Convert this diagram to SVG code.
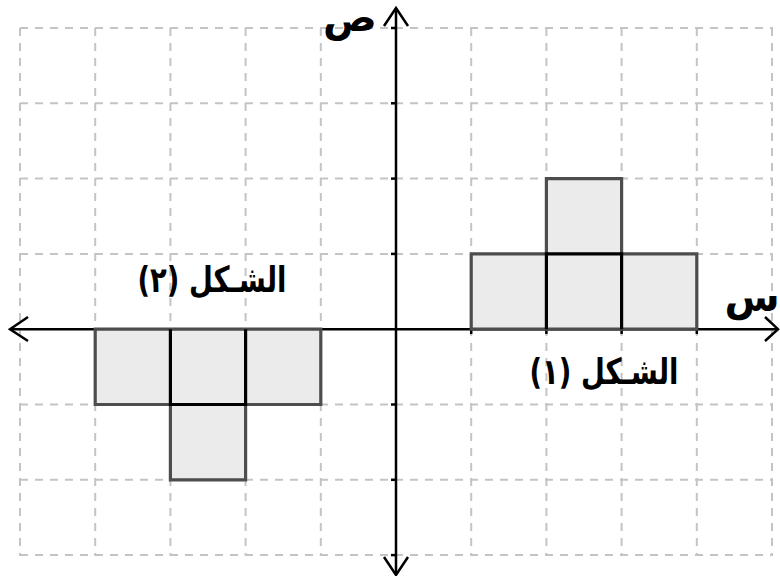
<svg xmlns="http://www.w3.org/2000/svg" width="780" height="576" viewBox="0 0 780 576">
<style>
.grid line{stroke:#c4c4c4;stroke-width:2;stroke-dasharray:8 7}
.axis{stroke:#000;stroke-width:2.5;fill:none}
.tick{stroke:#000;stroke-width:2.5}
.cell{fill:#ebebeb;stroke:#4d4d4d;stroke-width:3.2;stroke-linejoin:miter}
.inner{stroke:#000;stroke-width:3.2;fill:none}
.lbl{font-family:"DejaVu Sans","Liberation Sans",sans-serif;font-weight:bold;font-size:27.5px;fill:#000}
.ax{font-family:"DejaVu Serif","DejaVu Sans",serif;font-weight:bold;font-size:40px;fill:#000}
</style>
<rect width="780" height="576" fill="#fff"/>
<g id="grid" class="grid">
<line x1="20" y1="28" x2="20" y2="556"/>
<line x1="95.2" y1="28" x2="95.2" y2="556"/>
<line x1="170.4" y1="28" x2="170.4" y2="556"/>
<line x1="245.6" y1="28" x2="245.6" y2="556"/>
<line x1="320.8" y1="28" x2="320.8" y2="556"/>
<line x1="471.2" y1="28" x2="471.2" y2="556"/>
<line x1="546.4" y1="28" x2="546.4" y2="556"/>
<line x1="621.6" y1="28" x2="621.6" y2="556"/>
<line x1="696.8" y1="28" x2="696.8" y2="556"/>
<line x1="772" y1="28" x2="772" y2="556"/>
<line x1="20" y1="28" x2="773" y2="28"/>
<line x1="20" y1="103.3" x2="773" y2="103.3"/>
<line x1="20" y1="178.6" x2="773" y2="178.6"/>
<line x1="20" y1="253.9" x2="773" y2="253.9"/>
<line x1="20" y1="404.5" x2="773" y2="404.5"/>
<line x1="20" y1="479.8" x2="773" y2="479.8"/>
<line x1="20" y1="555.1" x2="773" y2="555.1"/>
</g>
<g id="axes">
<line class="axis" x1="10" y1="329.2" x2="778" y2="329.2"/>
<line class="axis" x1="396" y1="8" x2="396" y2="575"/>
<polyline class="axis" points="384,26 396,8 408,26"/>
<polyline class="axis" points="384,557 396,575 408,557"/>
<polyline class="axis" points="28,317 10,329.2 28,341"/>
<polyline class="axis" points="765,317 778,329.2 765,341"/>
<g class="tick">
<line x1="391" y1="28" x2="396" y2="28"/>
<line x1="391" y1="103.3" x2="396" y2="103.3"/>
<line x1="391" y1="178.6" x2="396" y2="178.6"/>
<line x1="391" y1="253.9" x2="396" y2="253.9"/>
<line x1="391" y1="404.5" x2="396" y2="404.5"/>
<line x1="391" y1="479.8" x2="396" y2="479.8"/>
<line x1="391" y1="555.1" x2="396" y2="555.1"/>
<line x1="471.2" y1="329.2" x2="471.2" y2="334"/>
<line x1="546.4" y1="329.2" x2="546.4" y2="334"/>
<line x1="621.6" y1="329.2" x2="621.6" y2="334"/>
<line x1="696.8" y1="329.2" x2="696.8" y2="334"/>
</g>
<text class="ax" x="350" y="31" text-anchor="middle">ص</text>
<text class="ax" x="752" y="311" text-anchor="middle">س</text>
</g>
<g id="shape1">
<path class="cell" d="M471.2,329.2 V253.9 H546.4 V178.6 H621.6 V253.9 H696.8 V329.2 Z"/>
<path class="inner" d="M546.4,329.2 V253.9 H621.6 V329.2"/>
</g>
<g id="shape2">
<path class="cell" d="M95.2,329.2 H320.8 V404.5 H245.6 V479.8 H170.4 V404.5 H95.2 Z"/>
<path class="inner" d="M170.4,329.2 V404.5 H245.6 V329.2"/>
</g>
<text id="label2" class="lbl" transform="scale(1,1.3)" x="212" y="224.6" text-anchor="middle" direction="rtl">الشـكل (٢)</text>
<text id="label1" class="lbl" transform="scale(1,1.3)" x="604" y="295.4" text-anchor="middle" direction="rtl">الشـكل (١)</text>
</svg>
